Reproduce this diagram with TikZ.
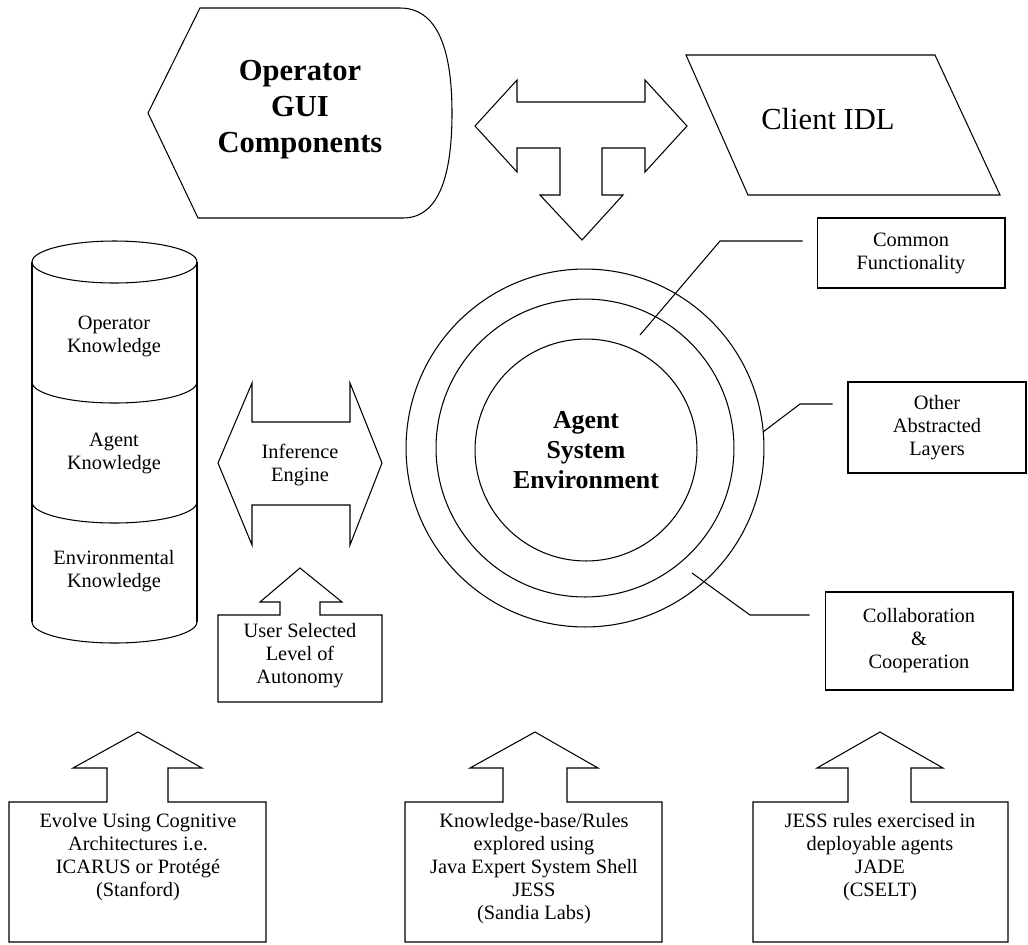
\documentclass[tikz,border=0pt]{standalone}
\usepackage{fontspec}
\setmainfont{Liberation Serif}
\usepackage{tikz}
\usetikzlibrary{positioning}

\begin{document}
\begin{tikzpicture}[x=0.02cm,y=-0.02cm,line width=0.6pt,node distance=2.35cm,on grid]
		\tikzstyle{title}=[align=center,inner sep=0pt,font=\fontsize{17.4}{20.5}\selectfont]
		\tikzstyle{core}=[align=center,inner sep=0pt,font=\fontsize{14.7}{17.2}\selectfont\bfseries]
		\tikzstyle{small}=[align=center,inner sep=0pt,font=\fontsize{11.6}{13.1}\selectfont]
		\tikzstyle{ring}=[circle,draw,inner sep=0pt]
		\tikzstyle{layer}=[draw,small,minimum width=3.76cm]
		
		\useasboundingbox (0,0) rectangle (1028,944);
		
		% top row
		\draw (148,113) -- (200,8) -- (400,8) .. controls (442,8) and (452,60) .. (452,113)
			.. controls (452,168) and (442,218) .. (403,218) -- (198,218) -- cycle;
		\node[title,font=\fontsize{17.4}{20.5}\selectfont\bfseries] (gui) at (300,110) {Operator\\GUI\\Components};
		
		\draw (475,126) -- (517,80) -- (517,102) -- (645,102) -- (645,80) -- (687,126) -- (645,172)
			-- (645,148) -- (602,148) -- (602,195) -- (623,195) -- (582,240) -- (540,195)
			-- (560,195) -- (560,148) -- (517,148) -- (517,172) -- cycle;
		
		\draw (686,55) -- (935,55) -- (1000,195) -- (748,195) -- cycle;
		\node[title] (idl) at (828,119) {Client IDL};
		
		% knowledge store
		\draw (114.5,262) ellipse [x radius=1.65cm, y radius=0.42cm];
		\draw (32,262) -- (32,622);
		\draw (197,262) -- (197,622);
		\foreach \y in {382,502,622}
			\draw (32,\y) arc [start angle=180, end angle=360, x radius=1.65cm, y radius=0.42cm];
		\node[small] (opk)                  at (114,336) {Operator\\Knowledge};
		\node[small] (agk)  [below=of opk]               {Agent\\Knowledge};
		\node[small] (envk) [below=of agk]               {Environmental\\Knowledge};
		
		\draw (218,463) -- (252,383) -- (252,422) -- (350,422) -- (350,383) -- (382,463)
			-- (350,545) -- (350,505) -- (252,505) -- (252,545) -- cycle;
		\node[small] (ie) at (300,465) {Inference\\Engine};
		
		\draw (218,615) -- (280,615) -- (280,602) -- (260,602) -- (300,568) -- (342,602)
			-- (320,602) -- (320,615) -- (382,615) -- (382,702) -- (218,702) -- cycle;
		\node[small] (usl) at (300,656) {User Selected\\Level of\\Autonomy};
		
		% agent system
		\node[ring,minimum size=7.16cm] (outer) at (585,448) {};
		\node[ring,minimum size=5.96cm] (middle) at (585,448) {};
		\node[ring,minimum size=4.44cm,core] (inner) at (586,450) {Agent\\System\\Environment};
		
		\node[layer,minimum height=1.4cm]  (cf) at (911,253)   {Common\\Functionality};
		\node[layer,minimum width=3.56cm,minimum height=1.82cm] (oal) at (937,427.5) {Other\\Abstracted\\Layers};
		\node[layer,minimum height=1.96cm] (cc) at (919,641)   {Collaboration\\\&\\Cooperation};
		
		\coordinate (cf-tip)  at (640,335);
		\coordinate (cf-bend) at (720,241);
		\coordinate (oal-tip)  at (763,432);
		\coordinate (oal-bend) at (800,404);
		\coordinate (cc-tip)  at (692,573);
		\coordinate (cc-bend) at (750,615);
		
		\draw[shorten >=0.28cm] (cf-tip) -- (cf-bend) -- (cf-bend -| cf.west);
		\draw[shorten >=0.3cm] (oal-tip) -- (oal-bend) -- (oal-bend -| oal.west);
		\draw[shorten >=0.3cm] (cc-tip) -- (cc-bend) -- (cc-bend -| cc.west);
		
		% bottom row
		\draw (9,802) -- (107,802) -- (107,768) -- (73,768) -- (138,732) -- (202,768) -- (168,768)
			-- (168,802) -- (266,802) -- (266,942) -- (9,942) -- cycle;
		\draw (405,802) -- (503,802) -- (503,768) -- (470,768) -- (535,732) -- (598,768) -- (567,768)
			-- (567,802) -- (662,802) -- (662,942) -- (405,942) -- cycle;
		\draw (753,802) -- (848,802) -- (848,768) -- (817,768) -- (880,732) -- (943,768) -- (911,768)
			-- (911,802) -- (1008,802) -- (1008,942) -- (753,942) -- cycle;
		
		\node[small,anchor=north] (icarus) at (138,813) {Evolve Using Cognitive\\Architectures i.e.\\ICARUS or Protégé\\(Stanford)};
		\node[small,anchor=north] (jess)   at (534,813) {Knowledge-base/Rules\\explored using\\Java Expert System Shell\\JESS\\(Sandia Labs)};
		\node[small,anchor=north] (jade)   at (880,813) {JESS rules exercised in\\deployable agents\\JADE\\(CSELT)};
		
\end{tikzpicture}
\end{document}
